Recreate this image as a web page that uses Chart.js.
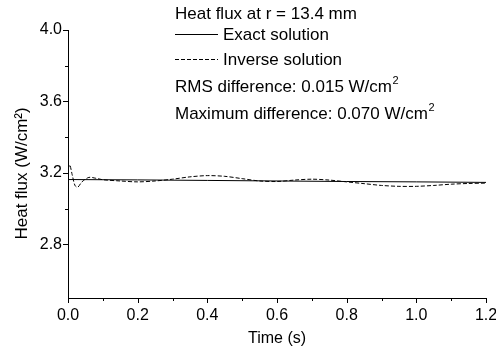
<!DOCTYPE html>
<html>
<head>
<meta charset="utf-8">
<script src="https://cdn.jsdelivr.net/npm/chart.js@4/dist/chart.umd.min.js"></script>
<style>
  body { margin: 0; background: #fff; }
  #wrap { width: 496px; height: 356px; }
</style>
</head>
<body>
<div id="wrap"><canvas id="fluxChart" width="496" height="356"></canvas></div>
<script>
// exact solution (smooth, nearly flat)
var exactTime = [0, 0.2, 0.4, 0.6, 0.8, 1.0, 1.2];
var exactFlux = [3.163, 3.161, 3.158, 3.155, 3.152, 3.150, 3.147];

// inverse solution
var inverseTime = [0, 0.005, 0.012, 0.02, 0.028, 0.04, 0.06, 0.08, 0.1, 0.15, 0.2, 0.25, 0.3, 0.35,
    0.4, 0.45, 0.5, 0.55, 0.6, 0.65, 0.7, 0.75, 0.8, 0.85, 0.9, 0.95, 1.0, 1.05, 1.1, 1.15, 1.2];
var inverseFlux = [3.22, 3.245, 3.19, 3.13, 3.12, 3.15, 3.175, 3.17, 3.162, 3.155, 3.15, 3.155, 3.165, 3.178,
    3.185, 3.181, 3.168, 3.155, 3.152, 3.16, 3.165, 3.16, 3.15, 3.14, 3.13, 3.125, 3.125, 3.13, 3.137, 3.141, 3.143];

var xMin = 0, xMax = 1.2, xMajor = 0.2, xMinor = 0.1;
var yMin = 2.5, yMax = 4.0, yMajor = 0.4, yMinor = 0.2;

var notes = {
    title: 'Heat flux at r = 13.4 mm',
    exact: 'Exact solution',
    inverse: 'Inverse solution',
    rms: 'RMS difference: 0.015 W/cm',
    max: 'Maximum difference: 0.070 W/cm'
};

var FONT = '"Liberation Sans", Arial, sans-serif';

function toPoints(xs, ys) {
    var pts = [];
    for (var i = 0; i < xs.length; i++) {
        pts.push({x: xs[i], y: ys[i]});
    }
    return pts;
}

function isMajor(v, start, step) {
    var k = (v - start) / step;
    return Math.abs(k - Math.round(k)) < 1e-6;
}

// draws major/minor tick marks pointing outward
var tickMarks = {
    id: 'tickMarks',
    afterDraw: function(chart) {
        var ctx = chart.ctx;
        var xs = chart.scales.x, ys = chart.scales.y;
        ctx.save();
        ctx.strokeStyle = '#000';
        ctx.lineWidth = 1;
        ctx.beginPath();
        xs.ticks.forEach(function(t) {
            var px = Math.round(xs.getPixelForValue(t.value)) + 0.5;
            var len = isMajor(t.value, 0, xMajor) ? 5 : 3;
            ctx.moveTo(px, xs.top);
            ctx.lineTo(px, xs.top + len);
        });
        ys.ticks.forEach(function(t) {
            if (t.value < 2.6 - 1e-6) return;
            var py = Math.round(ys.getPixelForValue(t.value)) + 0.5;
            var len = isMajor(t.value, 2.8, yMajor) ? 5 : 3;
            ctx.moveTo(ys.right, py);
            ctx.lineTo(ys.right - len, py);
        });
        ctx.stroke();
        ctx.restore();
    }
};

// text with a small raised "2" at the end
function textWithSquare(ctx, txt, x, y) {
    ctx.font = '17px ' + FONT;
    ctx.fillText(txt, x, y);
    var w = ctx.measureText(txt).width;
    ctx.font = '11px ' + FONT;
    ctx.fillText('2', x + w + 0.5, y - 8);
}

// the text block in the upper middle
var annotationBlock = {
    id: 'annotationBlock',
    afterDraw: function(chart) {
        var ctx = chart.ctx;
        ctx.save();
        ctx.fillStyle = '#000';
        ctx.font = '17px ' + FONT;
        ctx.textBaseline = 'alphabetic';
        var left = 175;
        ctx.fillText(notes.title, left, 19);
        ctx.fillText(notes.exact, 223, 40);
        ctx.fillText(notes.inverse, 223, 65);
        textWithSquare(ctx, notes.rms, left, 92);
        textWithSquare(ctx, notes.max, left, 119);

        ctx.strokeStyle = '#000';
        ctx.lineWidth = 1;
        ctx.beginPath();
        ctx.moveTo(left, 34.5);
        ctx.lineTo(218, 34.5);
        ctx.stroke();
        ctx.setLineDash([4, 2]);
        ctx.beginPath();
        ctx.moveTo(left, 59.5);
        ctx.lineTo(218, 59.5);
        ctx.stroke();
        ctx.restore();
    }
};

var ctx = document.getElementById('fluxChart').getContext('2d');
var chart = new Chart(ctx, {
    type: 'scatter',
    data: {
        datasets: [{
            label: notes.inverse,
            data: toPoints(inverseTime, inverseFlux),
            showLine: true,
            borderColor: '#000',
            borderWidth: 1,
            borderDash: [4, 2],
            pointRadius: 0,
            tension: 0.3
        }, {
            label: notes.exact,
            data: toPoints(exactTime, exactFlux),
            showLine: true,
            borderColor: '#000',
            borderWidth: 1,
            pointRadius: 0,
            tension: 0
        }]
    },
    options: {
        responsive: false,
        animation: false,
        layout: { padding: { top: 30, right: 0, left: 0, bottom: 0 } },
        plugins: {
            legend: { display: false },
            tooltip: { enabled: false }
        },
        scales: {
            x: {
                type: 'linear',
                min: xMin,
                max: xMax,
                afterFit: function(scale) {
                    scale.height = 58;
                    scale.paddingRight = 10; // "1.2" may run to the edge, like the original
                },
                ticks: {
                    stepSize: xMinor,
                    color: '#000',
                    font: { family: FONT, size: 16 },
                    padding: 3,
                    maxRotation: 0,
                    autoSkip: false,
                    callback: function(v) {
                        return isMajor(v, 0, xMajor) ? v.toFixed(1) : '';
                    }
                },
                grid: { display: false, drawTicks: true, tickLength: 5 },
                border: { display: true, color: '#000', width: 1 },
                title: {
                    display: true,
                    text: 'Time (s)',
                    color: '#000',
                    font: { family: FONT, size: 16 },
                    padding: { top: 2, bottom: 8 }
                }
            },
            y: {
                type: 'linear',
                min: yMin,
                max: yMax,
                afterFit: function(scale) { scale.width = 68; },
                ticks: {
                    stepSize: yMinor,
                    color: '#000',
                    font: { family: FONT, size: 16 },
                    padding: 1,
                    autoSkip: false,
                    callback: function(v) {
                        if (v < 2.6 - 1e-6) return '';
                        return isMajor(v, 2.8, yMajor) ? v.toFixed(1) : '';
                    }
                },
                grid: { display: false, drawTicks: true, tickLength: 5 },
                border: { display: true, color: '#000', width: 1 },
                title: {
                    display: true,
                    // trailing spaces nudge the rotated title down a little
                    text: 'Heat flux (W/cm\u00B2)    ',
                    color: '#000',
                    font: { family: FONT, size: 17 },
                    padding: { top: 12, bottom: 2 }
                }
            }
        }
    },
    plugins: [tickMarks, annotationBlock]
});
</script>
</body>
</html>
